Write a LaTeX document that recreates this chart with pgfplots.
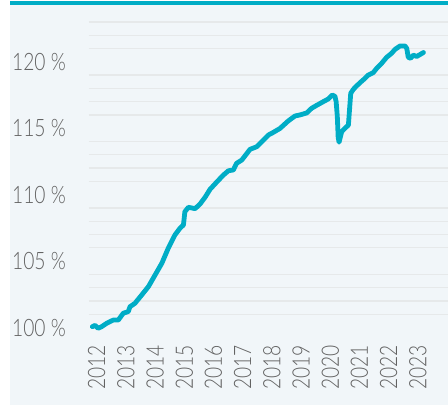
\documentclass[border=0pt]{standalone}
\usepackage{pgfplots}
\pgfplotsset{compat=1.18}
\usepackage{fontspec}
\setmainfont{Lato}[UprightFont={* Light}, FakeStretch=0.8]
\definecolor{panelbg}{HTML}{F1F6F9}
\definecolor{gridc}{HTML}{E6E9EA}
\definecolor{lineteal}{HTML}{00ADC6}
\definecolor{labelc}{HTML}{626262}
\pgfplotstableread{
x y
2011.85 100.07
2011.94 100.17
2012.05 99.95
2012.17 100.07
2012.34 100.32
2012.57 100.57
2012.74 100.57
2012.91 101.08
2013.08 101.2
2013.14 101.57
2013.31 101.83
2013.54 102.45
2013.77 103.08
2014.00 103.96
2014.23 104.84
2014.45 105.97
2014.68 106.97
2014.85 107.47
2014.97 107.72
2015.02 108.72
2015.14 109.05
2015.37 108.95
2015.54 109.3
2015.71 109.8
2015.88 110.4
2016.11 110.95
2016.34 111.48
2016.51 111.8
2016.68 111.86
2016.79 112.36
2016.97 112.61
2017.25 113.41
2017.48 113.61
2017.71 114.11
2017.88 114.49
2018.05 114.69
2018.28 114.99
2018.56 115.55
2018.79 115.92
2018.96 116.0
2019.19 116.15
2019.36 116.5
2019.53 116.72
2019.76 117.0
2019.93 117.2
2020.07 117.5
2020.16 117.4
2020.20 117.0
2020.24 115.9
2020.27 114.3
2020.30 113.95
2020.39 114.74
2020.50 114.99
2020.62 115.24
2020.70 117.63
2020.79 117.93
2020.90 118.18
2021.02 118.43
2021.19 118.76
2021.30 119.0
2021.47 119.18
2021.59 119.51
2021.76 119.89
2021.93 120.34
2022.10 120.64
2022.22 120.94
2022.39 121.19
2022.56 121.19
2022.62 121.0
2022.67 120.34
2022.75 120.26
2022.84 120.5
2022.96 120.4
2023.07 120.54
2023.19 120.7
}\datatable
\begin{document}
\begin{tikzpicture}
\useasboundingbox (0pt,0pt) rectangle (448pt,405pt);
\fill[panelbg] (10pt,0pt) rectangle (448pt,401pt);
\fill[lineteal] (10pt,400.2pt) rectangle (448pt,403.5pt);
\begin{axis}[
  at={(89pt,70.1pt)}, anchor=south west,
  scale only axis, width=359pt, height=327.6pt,
  xmin=2011.736, xmax=2024.031,
  ymin=99.45, ymax=124.1,
  axis line style={draw=none},
  major tick length=0pt, minor tick length=0pt,
  tick style={draw=none},
  xtick={2012,2013,2014,2015,2016,2017,2018,2019,2020,2021,2022,2023},
  xticklabels={2012,2013,2014,2015,2016,2017,2018,2019,2020,2021,2022,2023},
  ytick={100,105,110,115,120},
  yticklabels={100 \%,105 \%,110 \%,115 \%,120 \%},
  minor ytick={101,102,103,104,106,107,108,109,111,112,113,114,116,117,118,119,121,122,123},
  yminorgrids=true, ymajorgrids=false, xmajorgrids=false,
  minor grid style={draw=gridc, line width=1.3pt},
  yticklabel style={font=\fontsize{24}{28}\selectfont, text=labelc, anchor=east, inner sep=0pt, xshift=-23pt},
  xticklabel style={font=\fontsize{24}{28}\selectfont, text=labelc, yshift=-10pt, rotate=90, anchor=east, inner sep=0pt},
]
\addplot[draw=lineteal, line width=4.8pt, line join=round, line cap=round, no markers] table[x=x,y=y] {\datatable};
\end{axis}
\end{tikzpicture}
\end{document}
